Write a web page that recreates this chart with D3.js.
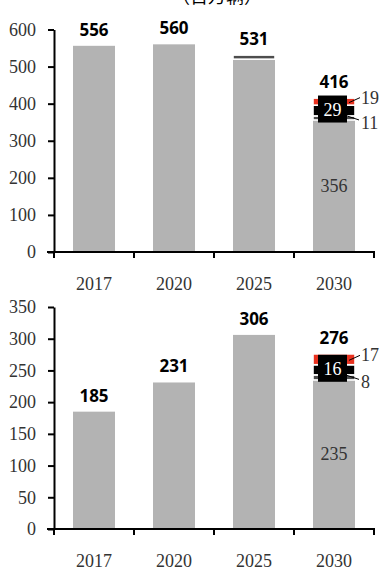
<!DOCTYPE html>
<html>
<head>
<meta charset="utf-8">
<script src="https://cdn.jsdelivr.net/npm/d3@7"></script>
<style>
  html, body { margin: 0; padding: 0; background: #fff; }
  svg { display: block; }
</style>
</head>
<body>
<svg id="chart" width="383" height="570"></svg>
<script>
// Categories and series
const years = ["2017", "2020", "2025", "2030"];

// Upper panel
const upperBase  = [556, 560, 520, 356];
const upperDark  = [0, 0, 11, 11];
const upperBlack = [0, 0, 0, 29];
const upperRed   = [0, 0, 0, 19];
const upperTotal = [556, 560, 531, 416];
const upperTicks = [0, 100, 200, 300, 400, 500, 600];

// Lower panel
const lowerBase  = [185, 231, 306, 235];
const lowerDark  = [0, 0, 0, 8];
const lowerBlack = [0, 0, 0, 16];
const lowerRed   = [0, 0, 0, 17];
const lowerTotal = [185, 231, 306, 276];
const lowerTicks = [0, 50, 100, 150, 200, 250, 300, 350];

const keys = ["base", "dark", "black", "red"];
const colors = { base: "#b3b3b3", dark: "#4d4d4d", black: "#000000", red: "#e8321f" };
const serif = "'Liberation Serif', 'DejaVu Serif', serif";
const sans = "'Noto Sans', 'Open Sans', sans-serif";

const svg = d3.select("#chart");

// Unit label
svg.append("text")
  .attr("x", 217).attr("y", 3)
  .attr("text-anchor", "middle")
  .attr("font-family", "'Noto Sans CJK SC', sans-serif")
  .attr("font-size", 18)
  .attr("fill", "#000")
  .text("（百万辆）");

function panel(opt) {
  const rows = years.map((y, i) => ({
    year: y, base: opt.base[i], dark: opt.dark[i], black: opt.black[i], red: opt.red[i], total: opt.total[i]
  }));

  const x = d3.scaleBand().domain(years).range([54, 374]).paddingInner(0.475).paddingOuter(0.2375);
  const y = d3.scaleLinear().domain([0, opt.max]).range([opt.y0, opt.y1]);

  const g = svg.append("g");

  const series = d3.stack().keys(keys)(rows);
  g.selectAll("g.layer").data(series).join("g")
    .attr("fill", d => colors[d.key])
    .selectAll("rect").data(d => d.filter(p => p[1] > p[0])).join("rect")
      .attr("x", d => x(d.data.year))
      .attr("width", x.bandwidth())
      .attr("y", d => y(d[1]))
      .attr("height", d => y(d[0]) - y(d[1]))
      .attr("stroke", "#fff")
      .attr("stroke-width", d => d[0] > 0 ? 1.6 : 0);

  // Y axis
  const ya = d3.axisLeft(y).tickValues(opt.ticks).tickSize(6).tickPadding(12).tickSizeOuter(0);
  const yg = g.append("g").attr("transform", "translate(54,0)").call(ya);
  yg.select(".domain").attr("stroke", "#000").attr("stroke-width", 2);
  yg.selectAll(".tick line").attr("stroke", "#000").attr("stroke-width", 2);
  yg.selectAll(".tick text").attr("font-family", serif).attr("font-size", 18).attr("fill", "#333");

  // X axis with ticks between categories
  const xg = g.append("g").attr("transform", `translate(0,${opt.y0})`);
  xg.append("line").attr("x1", 47).attr("x2", 375).attr("stroke", "#000").attr("stroke-width", 2);
  const step = x.step();
  d3.range(years.length + 1).forEach(i => {
    const px = 54 + i * step;
    xg.append("line").attr("x1", px).attr("x2", px).attr("y1", 0).attr("y2", 6)
      .attr("stroke", "#000").attr("stroke-width", 2);
  });
  xg.selectAll("text.cat").data(years).join("text")
    .attr("class", "cat")
    .attr("x", d => x(d) + x.bandwidth() / 2)
    .attr("y", 38)
    .attr("text-anchor", "middle")
    .attr("font-family", serif).attr("font-size", 18).attr("fill", "#333")
    .text(d => d);

  // Totals above bars
  g.selectAll("text.total").data(rows).join("text")
    .attr("class", "total")
    .attr("x", d => x(d.year) + x.bandwidth() / 2)
    .attr("y", d => y(d.base + d.dark + d.black + d.red) - 10)
    .attr("text-anchor", "middle")
    .attr("font-family", sans).attr("font-weight", "bold").attr("font-size", 17).attr("fill", "#000")
    .text(d => d.total);

  // Segment labels on the last stacked bar
  const last = rows[rows.length - 1];
  const cx = x(last.year) + x.bandwidth() / 2;
  const right = x(last.year) + x.bandwidth();

  g.append("text")
    .attr("x", cx).attr("y", y(last.base / 2) + 6)
    .attr("text-anchor", "middle")
    .attr("font-family", serif).attr("font-size", 18).attr("fill", "#333")
    .text(last.base);

  const blackMid = y(last.base + last.dark + last.black / 2);
  g.append("rect")
    .attr("x", cx - 16).attr("y", blackMid - 15)
    .attr("width", 29).attr("height", 27)
    .attr("fill", "#000");
  g.append("text")
    .attr("x", cx - 1.5).attr("y", blackMid + 5)
    .attr("text-anchor", "middle")
    .attr("font-family", serif).attr("font-size", 18).attr("fill", "#fff")
    .text(last.black);

  const redMid = y(last.base + last.dark + last.black + last.red / 2);
  g.append("line")
    .attr("x1", right - 6).attr("y1", redMid + 1)
    .attr("x2", right + 5).attr("y2", redMid - 4)
    .attr("stroke", "#000").attr("stroke-width", 1);
  g.append("text")
    .attr("x", right + 6).attr("y", redMid + 2)
    .attr("font-family", serif).attr("font-size", 18).attr("fill", "#333")
    .text(last.red);

  const darkMid = y(last.base + last.dark / 2);
  g.append("line")
    .attr("x1", right - 8).attr("y1", darkMid - 2)
    .attr("x2", right + 4).attr("y2", darkMid + 2)
    .attr("stroke", "#000").attr("stroke-width", 1);
  g.append("text")
    .attr("x", right + 6).attr("y", darkMid + 11)
    .attr("font-family", serif).attr("font-size", 18).attr("fill", "#333")
    .text(last.dark);
}

panel({ base: upperBase, dark: upperDark, black: upperBlack, red: upperRed, total: upperTotal,
        ticks: upperTicks, max: 600, y0: 252, y1: 29.5 });
panel({ base: lowerBase, dark: lowerDark, black: lowerBlack, red: lowerRed, total: lowerTotal,
        ticks: lowerTicks, max: 350, y0: 529, y1: 307 });
</script>
</body>
</html>
